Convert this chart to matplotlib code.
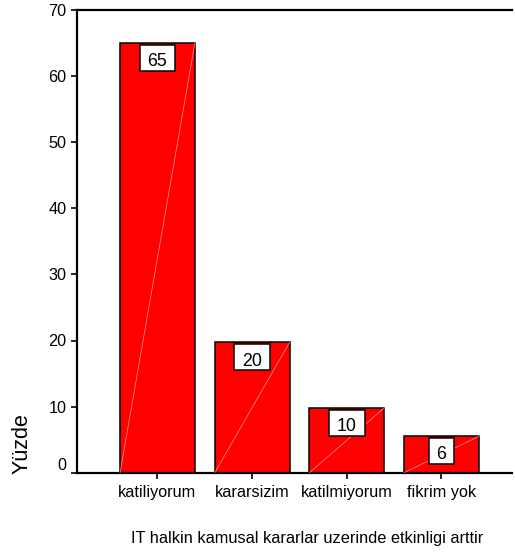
import matplotlib
matplotlib.use("Agg")
import matplotlib.pyplot as plt
from matplotlib.path import Path

categories = ["katiliyorum", "kararsizim", "katilmiyorum", "fikrim yok"]
values = [65.0, 19.7, 9.8, 5.5]
labels = ["65", "20", "10", "6"]
yticks = [0, 10, 20, 30, 40, 50, 60, 70]
xlabel = "IT halkin kamusal kararlar uzerinde etkinligi arttir"
ylabel = "Yüzde"

plt.rcParams["font.family"] = ["Liberation Sans", "DejaVu Sans"]

W, H = 515, 554
fig = plt.figure(figsize=(W / 100, H / 100), dpi=100)
ax = fig.add_axes([77 / W, 1 - 472.7 / H, (512 - 77) / W, (472.7 - 10) / H])

x = list(range(len(categories)))
bw = 0.79
ax.bar(x, values, width=bw, color="#FF0000", edgecolor="black", linewidth=1.1, zorder=2)
for xi, v in zip(x, values):
    ax.plot([xi - bw / 2, xi + bw / 2], [0, v], color="#FF9A9A", lw=0.5, zorder=3)


def label_box(x0, y0, width, height, mutation_size):
    ms = mutation_size
    xl = x0 - 0.44 * ms
    xr = x0 + width + 0.44 * ms
    yb = y0 - 0.05 * ms
    yt = yb + 1.48 * ms
    return Path([(xl, yb), (xr, yb), (xr, yt), (xl, yt), (xl, yb)], closed=True)


for xi, v, lab in zip(x, values, labels):
    ax.annotate(lab, xy=(xi, v), xytext=(0, -16.6), textcoords="offset points",
                ha="center", va="baseline", fontsize=12.8, zorder=5,
                bbox=dict(boxstyle=label_box, fc="white", ec="black", lw=1.1))

ax.set_xlim(-0.85, 3.745)
ax.set_ylim(0, 70)
ax.set_yticks(yticks)
ax.set_xticks(x)
ax.set_xticklabels(categories)
ax.tick_params(axis="both", labelsize=11.7, length=4.5, width=1.2, color="black")
ax.tick_params(axis="x", pad=4)
ax.tick_params(axis="y", pad=3)

for s in ["left", "top", "bottom"]:
    ax.spines[s].set_linewidth(1.6)
ax.spines["right"].set_visible(False)

ax.yaxis.get_major_ticks()[0].label1.set_verticalalignment("bottom")

fig.text(22 / W, 1 - 444 / H, ylabel, rotation=90, ha="center", va="center", fontsize=15.5)
fig.text(307.5 / W, 1 - 543 / H, xlabel, ha="center", va="baseline", fontsize=11.8)

fig.savefig("out.png", dpi=100)
